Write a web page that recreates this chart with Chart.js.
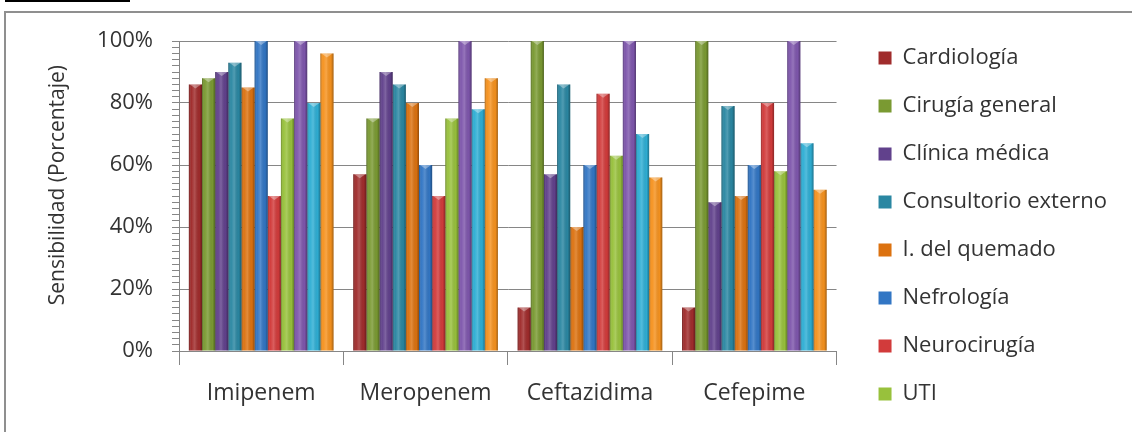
<!DOCTYPE html>
<html>
<head>
<meta charset="utf-8">
<script src="https://cdn.jsdelivr.net/npm/chart.js@4.4.1/dist/chart.umd.min.js"></script>
<style>
  html, body { margin: 0; padding: 0; background: #fff; }
  body { width: 1132px; height: 432px; position: relative; overflow: hidden; }
  #topbar { position: absolute; left: 5px; top: 0; width: 125px; height: 2px; background: #000; }
  #frame { position: absolute; left: 4px; top: 11px; width: 1140px; height: 440px; border: 2px solid #8f8f8f; }
  #wrap { position: absolute; left: 0; top: 0; width: 1132px; height: 432px; }
</style>
</head>
<body>
<div id="topbar"></div>
<div id="frame"></div>
<div id="wrap"><canvas id="chart_sensibilidad"></canvas></div>
<script>
// categorias (antibioticos)
const categories = ['Imipenem', 'Meropenem', 'Ceftazidima', 'Cefepime'];

// servicios, en el orden de las barras
const services = [
  'Cardiología', 'Cirugía general', 'Clínica médica', 'Consultorio externo',
  'I. del quemado', 'Nefrología', 'Neurocirugía', 'UTI',
  'Servicio 9', 'Servicio 10', 'Servicio 11'
];

// sensibilidad (%) por servicio, una entrada por antibiotico
const cardiologia        = [86, 57, 14, 14];
const cirugiaGeneral     = [88, 75, 100, 100];
const clinicaMedica      = [90, 90, 57, 48];
const consultorioExterno = [93, 86, 86, 79];
const quemado            = [85, 80, 40, 50];
const nefrologia         = [100, 60, 60, 60];
const neurocirugia       = [50, 50, 83, 80];
const uti                = [75, 75, 63, 58];
const servicio9          = [100, 100, 100, 100];
const servicio10         = [80, 78, 70, 67];
const servicio11         = [96, 88, 56, 52];

const seriesValues = [cardiologia, cirugiaGeneral, clinicaMedica, consultorioExterno,
  quemado, nefrologia, neurocirugia, uti, servicio9, servicio10, servicio11];

const colors = ['#A02C2C', '#7A9A32', '#61418C', '#2A87A2', '#DC7210', '#3276C4',
  '#D23B3B', '#98C13C', '#7E56AC', '#2EAED4', '#F6921E'];

const legendCount = 8; // la leyenda del original solo muestra los 8 primeros
const yMajorStep = 20;
const legendGap = 16;  // hueco entre el area del grafico y la leyenda

// sombreado tipo Excel 2007 sobre cada barra
const barShade = {
  id: 'barShade',
  afterDatasetsDraw(chart) {
    const ctx = chart.ctx;
    ctx.save();
    chart.data.datasets.forEach((ds, i) => {
      const meta = chart.getDatasetMeta(i);
      if (meta.hidden) return;
      meta.data.forEach(bar => {
        const w = bar.width, l = bar.x - w / 2, top = Math.min(bar.y, bar.base), h = Math.abs(bar.base - bar.y);
        const g = ctx.createLinearGradient(l, 0, l + w, 0);
        g.addColorStop(0, 'rgba(0,0,0,0.3)');
        g.addColorStop(0.2, 'rgba(255,255,255,0.02)');
        g.addColorStop(0.45, 'rgba(255,255,255,0.18)');
        g.addColorStop(0.8, 'rgba(0,0,0,0.02)');
        g.addColorStop(1, 'rgba(0,0,0,0.34)');
        ctx.fillStyle = g;
        ctx.fillRect(l, top, w, h);
        ctx.beginPath();
        ctx.moveTo(l + 1, top);
        ctx.lineTo(l + w - 1, top);
        ctx.lineTo(l + w / 2, top + 4);
        ctx.closePath();
        ctx.fillStyle = 'rgba(255,255,255,0.35)';
        ctx.fill();
      });
    });
    ctx.restore();
  }
};

// deja un hueco a la izquierda de la leyenda
const legendShift = {
  id: 'legendShift',
  beforeLayout(chart) {
    const lg = chart.legend;
    if (lg && !lg._gapPatched) {
      const fit = lg.fit;
      lg.fit = function () { fit.call(this); this.width += legendGap; };
      lg._gapPatched = true;
    }
  },
  afterLayout(chart) {
    if (chart.legend) chart.legend.left += legendGap;
  }
};

var chart_sensibilidad = new Chart(document.getElementById('chart_sensibilidad'), {
  type: 'bar',
  data: {
    labels: categories,
    datasets: services.map((name, i) => ({
      label: name,
      data: seriesValues[i],
      backgroundColor: colors[i],
      borderWidth: 0,
      xAxisID: 'x',
      yAxisID: 'y'
    }))
  },
  options: {
    animation: false,
    responsive: true,
    maintainAspectRatio: false,
    categoryPercentage: 0.88,
    barPercentage: 1.0,
    layout: { padding: { left: 0, top: 20, right: 15, bottom: 0 } },
    plugins: {
      tooltip: { enabled: false },
      legend: {
        position: 'right',
        align: 'center',
        labels: {
          boxWidth: 13,
          boxHeight: 13,
          padding: 26,
          color: '#333',
          font: { family: 'Open Sans', size: 22 },
          filter: (item) => item.datasetIndex < legendCount
        }
      }
    },
    scales: {
      x: {
        grid: {
          drawOnChartArea: false,
          drawTicks: true,
          tickLength: 14,
          tickColor: '#868686'
        },
        border: { display: true, color: '#868686', width: 1 },
        ticks: {
          color: '#333',
          padding: 15,
          font: { family: 'Open Sans', size: 23 },
          maxRotation: 0
        },
        afterFit: (scale) => { scale.height = 81; }
      },
      xTop: {
        type: 'category',
        position: 'top',
        display: true,
        grid: { display: false },
        border: { display: false },
        ticks: { display: false },
        afterFit: (scale) => { scale.height = 21; }
      },
      y: {
        min: 0,
        max: 100,
        position: 'left',
        grid: {
          color: (ctx) => (ctx.tick && ctx.tick.value % yMajorStep === 0) ? '#868686' : 'rgba(0,0,0,0)',
          tickColor: '#868686',
          tickLength: 7,
          drawTicks: true
        },
        border: { display: true, color: '#868686', width: 1 },
        ticks: {
          stepSize: 2,
          autoSkip: false,
          color: '#333',
          padding: 19,
          font: { family: 'Open Sans', size: 22 },
          callback: (value) => value % yMajorStep === 0 ? value + '%' : ''
        },
        title: {
          display: true,
          text: '    Sensibilidad (Porcentaje)',
          color: '#333',
          font: { family: 'Open Sans', size: 21 },
          padding: { top: 45, bottom: 4 }
        },
        afterFit: (scale) => { scale.width = 179; }
      }
    }
  },
  plugins: [barShade, legendShift]
});
</script>
</body>
</html>
